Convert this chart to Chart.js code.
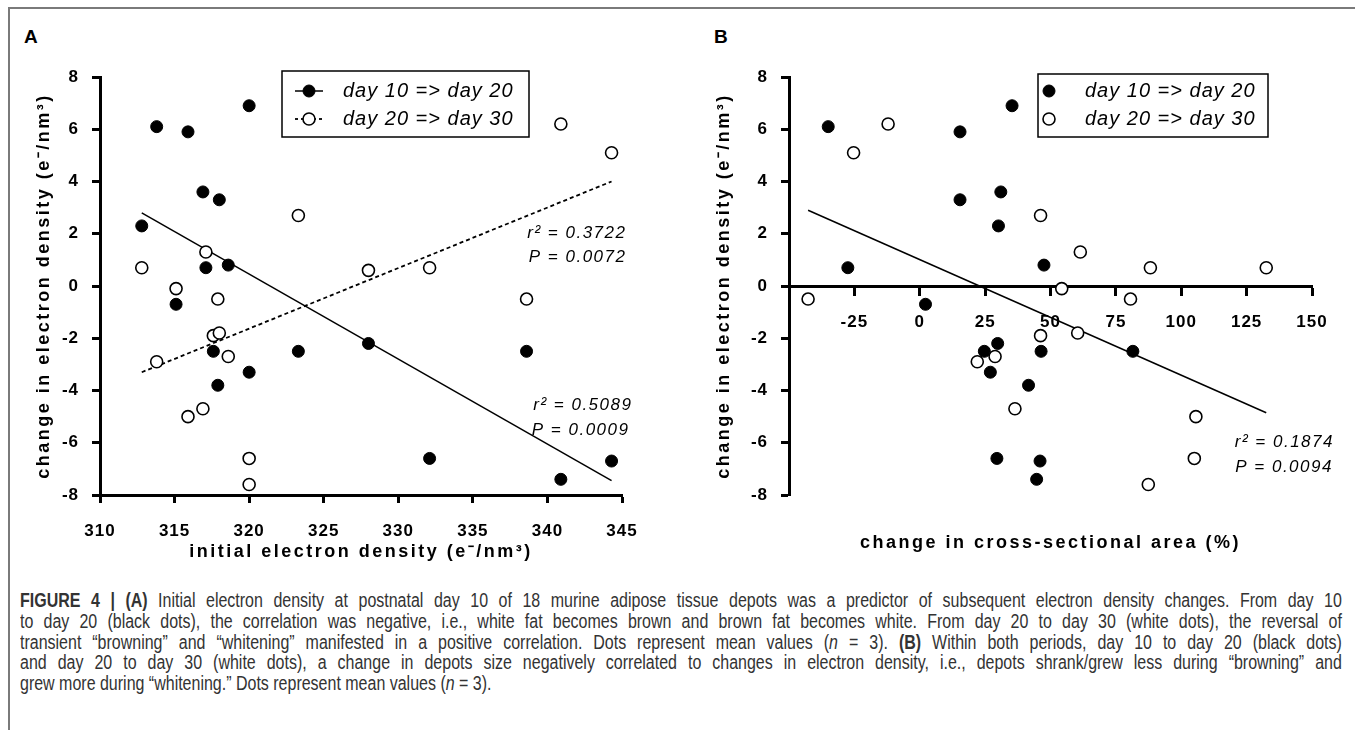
<!DOCTYPE html>
<html lang="en">
<head>
<meta charset="UTF-8">
<title>Figure 4</title>
<style>
  html, body { margin: 0; padding: 0; background: #fff; }
  body { width: 1355px; height: 730px; position: relative; overflow: hidden; font-family: "Liberation Sans", Arial, sans-serif; }
  .frame-top { position: absolute; left: 8px; top: 7px; width: 1347px; height: 2px; background: #7a7a7a; }
  .frame-left { position: absolute; left: 8px; top: 7px; width: 2px; height: 723px; background: #7a7a7a; }
  .panel { position: absolute; top: 0; height: 580px; }
  .panel canvas { display: block; }
  .tag { position: absolute; top: 26px; font-weight: bold; font-size: 19px; color: #000; }
  .caption { position: absolute; left: 20px; top: 590px; width: 1612px; color: #333;
             transform: scaleX(0.82); transform-origin: 0 0;
             font-family: "Liberation Sans", Arial, sans-serif; font-size: 19.5px; line-height: 20.8px; }
  .caption div { white-space: nowrap; text-align: justify; text-align-last: justify; }
  .caption div.last { text-align-last: left; }
</style>
</head>
<body>
<div class="frame-top"></div>
<div class="frame-left"></div>
<div class="tag" style="left:24px">A</div>
<div class="tag" style="left:714px">B</div>
<div class="panel" style="left:0; width:680px"><canvas id="chartA" width="680" height="580"></canvas></div>
<div class="panel" style="left:680px; width:675px"><canvas id="chartB" width="675" height="580"></canvas></div>
<div class="caption">
  <div><b>FIGURE 4 | (A)</b> Initial electron density at postnatal day 10 of 18 murine adipose tissue depots was a predictor of subsequent electron density changes. From day 10</div>
  <div>to day 20 (black dots), the correlation was negative, i.e., white fat becomes brown and brown fat becomes white. From day 20 to day 30 (white dots), the reversal of</div>
  <div>transient “browning” and “whitening” manifested in a positive correlation. Dots represent mean values (<i>n</i> = 3). <b>(B)</b> Within both periods, day 10 to day 20 (black dots)</div>
  <div>and day 20 to day 30 (white dots), a change in depots size negatively correlated to changes in electron density, i.e., depots shrank/grew less during “browning” and</div>
  <div class="last">grew more during “whitening.” Dots represent mean values (<i>n</i> = 3).</div>
</div>

<script src="https://cdn.jsdelivr.net/npm/chart.js@4.4.2/dist/chart.umd.min.js"></script>
<script>
// ---- data ----
// panel A: initial electron density (e-/nm3) of the 18 depots at day 10
const initialDensity = [312.8, 313.8, 315.1, 315.9, 316.9, 317.1, 317.6, 317.9, 318.0, 318.6, 320.0, 320.0, 323.3, 328.0, 332.1, 338.6, 340.9, 344.3];
// change in electron density, same depot order
const change10to20 = [2.3, 6.1, -0.7, 5.9, 3.6, 0.7, -2.5, -3.8, 3.3, 0.8, 6.9, -3.3, -2.5, -2.2, -6.6, -2.5, -7.4, -6.7];
const change20to30 = [0.7, -2.9, -0.1, -5.0, -4.7, 1.3, -1.9, -0.5, -1.8, -2.7, -6.6, -7.6, 2.7, 0.6, 0.7, -0.5, 6.2, 5.1];

// panel B: change in cross-sectional area (%), day 10 => day 20 (same depot order as above)
const areaChange10to20 = [30.1, -35.0, 2.2, 15.4, 31.0, -27.5, 24.7, 41.6, 15.4, 47.5, 35.3, 27.0, 46.4, 29.8, 29.5, 81.5, 44.7, 46.0];
// day 20 => day 30 (17 visible circles)
const areaChange20to30 = [-42.7, -25.3, -12.1, 22.0, 28.8, 36.4, 46.2, 46.2, 54.3, 60.4, 61.4, 80.6, 87.4, 88.2, 105.0, 105.6, 132.5];
const changeB20to30 = [-0.5, 5.1, 6.2, -2.9, -2.7, -4.7, 2.7, -1.9, -0.1, -1.8, 1.3, -0.5, -7.6, 0.7, -6.6, -5.0, 0.7];

// regression line end points as drawn
const fitAx = [312.8, 344.3];
const fitA10to20 = [2.8, -7.45];
const fitA20to30 = [-3.3, 4.0];
const fitBx = [-42.7, 132.5];
const fitBy = [2.9, -4.85];

// ticks
const yTicks = [-8, -6, -4, -2, 0, 2, 4, 6, 8];
const xTicksA = [310, 315, 320, 325, 330, 335, 340, 345];
const xTicksB = [-50, -25, 0, 25, 50, 75, 100, 125, 150];

const FONT = '"Liberation Sans", Arial, Helvetica, sans-serif';
const pts = (xs, ys) => xs.map((x, i) => ({ x: x, y: ys[i] }));

// the figure's lettering is spaced out a little; wrap the scale text calls
const tracking = {
  id: 'tracking',
  afterLayout(chart, args, o) {
    Object.values(chart.scales).forEach(s => {
      if (s._tracked) return;
      s._tracked = true;
      const wrap = (fn, sp) => function () {
        const c = this.ctx;
        c.save();
        c.letterSpacing = sp;
        fn.apply(this, arguments);
        c.restore();
      };
      s.drawTitle = wrap(s.drawTitle, o.title);
      s.drawLabels = wrap(s.drawLabels, o.ticks);
    });
  }
};

// legend with a frame, drawn inside the plot
const boxLegend = {
  id: 'boxLegend',
  afterDraw(chart, args, o) {
    if (!o.rows) return;
    const ctx = chart.ctx;
    ctx.save();
    ctx.strokeStyle = '#000';
    ctx.lineWidth = 1.5;
    ctx.strokeRect(o.left, o.top, o.width, o.height);
    o.rows.forEach((row, i) => {
      const ds = chart.data.datasets[row.dataset];
      const cy = o.top + o.firstRow + i * o.rowGap;
      if (row.line) {
        ctx.beginPath();
        ctx.setLineDash(row.line === 'dash' ? [3, 3] : []);
        ctx.lineWidth = row.line === 'dash' ? 1.8 : 1.5;
        ctx.moveTo(o.markerX - 14, cy);
        ctx.lineTo(o.markerX + 14, cy);
        ctx.stroke();
        ctx.setLineDash([]);
      }
      ctx.beginPath();
      ctx.arc(o.markerX, cy, ds.pointRadius, 0, Math.PI * 2);
      ctx.fillStyle = ds.pointBackgroundColor;
      ctx.fill();
      ctx.lineWidth = ds.pointBorderWidth;
      ctx.strokeStyle = ds.pointBorderColor;
      ctx.stroke();
      ctx.fillStyle = '#000';
      ctx.font = 'italic 20px ' + FONT;
      ctx.letterSpacing = '1px';
      ctx.textAlign = 'left';
      ctx.textBaseline = 'middle';
      ctx.fillText(ds.label, o.textX, cy);
    });
    ctx.restore();
  }
};

// r2 / P values
const statsText = {
  id: 'statsText',
  afterDatasetsDraw(chart, args, o) {
    if (!o.items) return;
    const ctx = chart.ctx;
    const sx = chart.scales.x, sy = chart.scales.y;
    ctx.save();
    ctx.fillStyle = '#000';
    ctx.font = 'italic 17px ' + FONT;
    ctx.letterSpacing = '1.5px';
    ctx.textAlign = 'right';
    ctx.textBaseline = 'middle';
    o.items.forEach(it => ctx.fillText(it.text, sx.getPixelForValue(it.x), sy.getPixelForValue(it.y)));
    ctx.restore();
  }
};

function yAxis(width, titlePad) {
  return {
    type: 'linear', min: -8, max: 8,
    afterBuildTicks: s => { s.ticks = yTicks.map(v => ({ value: v })); },
    afterFit: s => { s.width = width; },
    border: { display: true, color: '#000', width: 3 },
    grid: { drawOnChartArea: false, drawTicks: true, tickLength: 8, tickWidth: 3, tickColor: '#000' },
    ticks: { color: '#000', padding: 13, font: { family: FONT, size: 17, weight: 'bold' } },
    title: {
      display: true, text: 'change in electron density (e⁻/nm³)', color: '#000',
      padding: { top: titlePad, bottom: 0 }, font: { family: FONT, size: 18, weight: 'bold' }
    }
  };
}

function pointSet(label, data, filled) {
  return {
    type: 'scatter', label: label, data: data,
    pointRadius: 6,
    pointBackgroundColor: filled ? '#000' : '#fff',
    pointBorderColor: '#000',
    pointBorderWidth: filled ? 1 : 1.6,
    order: filled ? 1 : 0
  };
}

function fitLine(data, dashed) {
  return {
    type: 'line', label: '', data: data,
    borderColor: '#000', borderWidth: dashed ? 1.8 : 1.5,
    borderDash: dashed ? [4, 3] : [],
    pointRadius: 0, fill: false, order: 3
  };
}

const common = {
  responsive: false,
  animation: false,
  events: [],
  plugins: {
    legend: { display: false },
    tooltip: { enabled: false },
    tracking: { title: '2.5px', ticks: '1px' }
  }
};

new Chart(document.getElementById('chartA'), {
  type: 'scatter',
  data: {
    datasets: [
      pointSet('day 10 => day 20', pts(initialDensity, change10to20), true),
      pointSet('day 20 => day 30', pts(initialDensity, change20to30), false),
      fitLine(pts(fitAx, fitA10to20), false),
      fitLine(pts(fitAx, fitA20to30), true)
    ]
  },
  options: Object.assign({}, common, {
    layout: { padding: { top: 77, right: 58, left: 0, bottom: 0 } },
    scales: {
      x: {
        type: 'linear', min: 310, max: 345,
        afterBuildTicks: s => { s.ticks = xTicksA.map(v => ({ value: v })); },
        afterFit: s => { s.height = 85; },
        border: { display: true, color: '#000', width: 3 },
        grid: { drawOnChartArea: false, drawTicks: true, tickLength: 8, tickWidth: 3, tickColor: '#000' },
        ticks: { color: '#000', padding: 18, maxRotation: 0, font: { family: FONT, size: 17, weight: 'bold' } },
        title: {
          display: true, text: 'initial electron density (e⁻/nm³)', color: '#000',
          padding: { top: 0, bottom: 17 }, font: { family: FONT, size: 18, weight: 'bold' }
        }
      },
      y: yAxis(100, 33)
    },
    plugins: Object.assign({}, common.plugins, {
      boxLegend: {
        left: 282, top: 71, width: 247, height: 66, firstRow: 20, rowGap: 28, markerX: 309, textX: 343,
        rows: [{ dataset: 0, line: 'solid' }, { dataset: 1, line: 'dash' }]
      },
      statsText: {
        items: [
          { text: 'r² = 0.3722', x: 345.3, y: 2.03 },
          { text: 'P = 0.0072', x: 345.3, y: 1.11 },
          { text: 'r² = 0.5089', x: 345.7, y: -4.55 },
          { text: 'P = 0.0009', x: 345.5, y: -5.51 }
        ]
      }
    })
  }),
  plugins: [tracking, boxLegend, statsText]
});

new Chart(document.getElementById('chartB'), {
  type: 'scatter',
  data: {
    datasets: [
      pointSet('day 10 => day 20', pts(areaChange10to20, change10to20), true),
      pointSet('day 20 => day 30', pts(areaChange20to30, changeB20to30), false),
      fitLine(pts(fitBx, fitBy), false)
    ]
  },
  options: Object.assign({}, common, {
    layout: { padding: { top: 77, right: 43, left: 0, bottom: 0 } },
    scales: {
      // carries only the title under the plot
      x: {
        type: 'linear', min: -50, max: 150, position: 'bottom',
        afterFit: s => { s.height = 85; },
        border: { display: false },
        grid: { display: false },
        ticks: { display: false },
        title: {
          display: true, text: 'change in cross-sectional area (%)', color: '#000',
          padding: { top: 0, bottom: 26 }, font: { family: FONT, size: 18, weight: 'bold' }
        }
      },
      // axis line crossing at y = 0
      x0: {
        type: 'linear', axis: 'x', min: -50, max: 150, position: { y: 0 },
        afterBuildTicks: s => { s.ticks = xTicksB.map(v => ({ value: v })); },
        afterFit: s => { s.height = 0; },
        border: { display: true, color: '#000', width: 3 },
        grid: { drawOnChartArea: false, drawTicks: true, tickLength: 8, tickWidth: 3, tickColor: '#000' },
        ticks: {
          color: '#000', padding: 18, maxRotation: 0, font: { family: FONT, size: 17, weight: 'bold' },
          callback: v => (v === -50 ? null : v)
        }
      },
      y: yAxis(109, 33)
    },
    plugins: Object.assign({}, common.plugins, {
      boxLegend: {
        left: 358, top: 74, width: 230, height: 63, firstRow: 17, rowGap: 28, markerX: 369, textX: 405,
        rows: [{ dataset: 0 }, { dataset: 1 }]
      },
      statsText: {
        items: [
          { text: 'r² = 0.1874', x: 158.4, y: -5.97 },
          { text: 'P = 0.0094', x: 158.0, y: -6.93 }
        ]
      }
    })
  }),
  plugins: [tracking, boxLegend, statsText]
});
</script>
</body>
</html>
